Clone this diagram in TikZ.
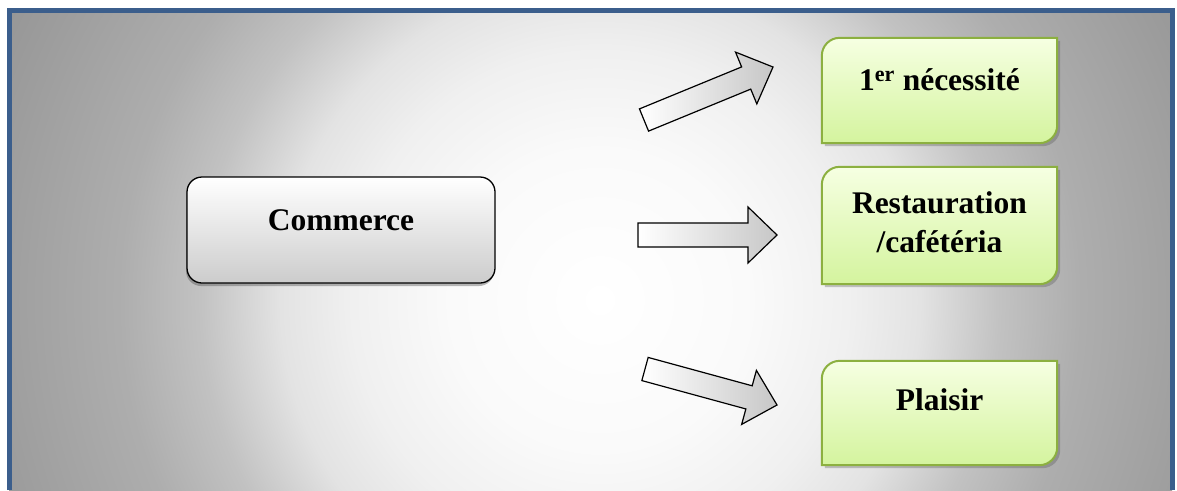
\documentclass[tikz,border=0pt]{standalone}
\usepackage{fontspec}
\setmainfont{Liberation Serif}
\usetikzlibrary{calc,shadows}
\definecolor{frameblue}{RGB}{59,94,140}
\definecolor{gborder}{RGB}{140,176,64}
\definecolor{gtop}{RGB}{246,255,226}
\definecolor{gbot}{RGB}{212,244,158}
% 25bp corresponds to 800 px (half side of the shaded square)
\pgfdeclareradialshading{bgshade}{\pgfpoint{0bp}{0bp}}{color(0bp)=(white); color(4.7bp)=(black!2); color(7.8bp)=(black!6); color(10bp)=(black!11); color(12.5bp)=(black!24); color(15bp)=(black!32); color(17.5bp)=(black!36); color(20.6bp)=(black!41); color(25bp)=(black!45); color(50bp)=(black!45)}
\tikzset{
  lbl/.style={font=\fontsize{31.5}{39}\selectfont\bfseries, align=center, inner sep=0pt},
  holder/.style={rectangle, inner sep=0pt, draw=none},
  gbox/.style={draw=gborder, line width=2pt, top color=gtop, bottom color=gbot,
    drop shadow={shadow xshift=3pt, shadow yshift=-3pt, opacity=0.3, fill=black!70}},
  cbox/.style={rectangle, draw=black, line width=1.3pt, rounded corners=15pt, top color=white, bottom color=black!20,
    drop shadow={shadow xshift=-1pt, shadow yshift=-3pt, opacity=0.4, fill=black!70}},
  barrow/.style={draw=black, line width=1.2pt, left color=white, right color=black!22, line join=miter},
  framebar/.style={draw=frameblue, line width=5pt},
}
\newcommand\myblockarrow[3]{%
  \coordinate (#1-t) at #2; \coordinate (#1-h) at #3;
  \coordinate (#1-s) at ($(#1-h)!29pt!(#1-t)$);
  \draw[barrow] ($(#1-t)!12pt!90:(#1-h)$) -- ($(#1-s)!12pt!-90:(#1-t)$) -- ($(#1-s)!28pt!-90:(#1-t)$) -- (#1-h) -- ($(#1-s)!28pt!90:(#1-t)$) -- ($(#1-s)!12pt!90:(#1-t)$) -- ($(#1-t)!12pt!-90:(#1-h)$) -- cycle;}
\newcommand\mygreenbox[4]{%
  \node[holder, minimum width=#3, minimum height=#4] (#1) at #2 {};
  \draw[gbox] (#1.south west) -- ([yshift=-18pt]#1.north west)
    .. controls ([yshift=-8pt]#1.north west) and ([xshift=8pt]#1.north west) .. ([xshift=18pt]#1.north west)
    -- (#1.north east) -- ([yshift=18pt]#1.south east)
    .. controls ([yshift=8pt]#1.south east) and ([xshift=-8pt]#1.south east) .. ([xshift=-18pt]#1.south east)
    -- cycle;}
\begin{document}
\begin{tikzpicture}[x=1pt,y=-1pt]
\useasboundingbox (0,0) rectangle (1177,490);
% background
\begin{scope}
  \clip (9,10) rectangle (1172,490);
  \shade[shading=bgshade] (600-800,300-800) rectangle (600+800,300+800);
\end{scope}
\draw[framebar] (9.5,490) -- (9.5,10) -- (1172,10) -- (1172,490);
% source box
\node[cbox, minimum width=308pt, minimum height=106pt] (com) at (341,230) {};
\node[lbl] (comt) at (341,220) {Commerce};
% arrows
\myblockarrow{a1}{(644,120)}{(773,67)}
\myblockarrow{a2}{(638,235)}{(777,235)}
\myblockarrow{a3}{(645,369)}{(777,405)}
% target boxes
\mygreenbox{g1}{(939.5,90.5)}{235pt}{105pt}
\mygreenbox{g2}{(939.5,225.5)}{235pt}{117pt}
\mygreenbox{g3}{(939.5,413)}{235pt}{104pt}
\node[lbl] (l1) at (939.5,80) {1\textsuperscript{er} nécessité};
\node[lbl] (l2) at (939.5,222) {Restauration\\/cafétéria};
\node[lbl] (l3) at (939.5,400) {Plaisir};
\end{tikzpicture}
\end{document}
